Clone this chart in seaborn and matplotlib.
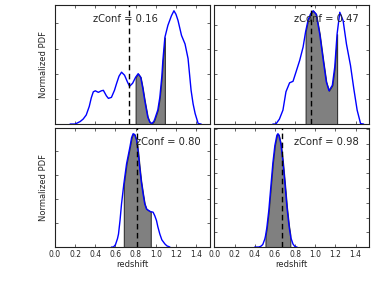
import numpy as np
import pandas as pd
import matplotlib
matplotlib.use("Agg")
import matplotlib.pyplot as plt
from matplotlib.ticker import MaxNLocator, MultipleLocator
import seaborn as sns

# ---- data ----
z_a = [0.15, 0.20, 0.25, 0.28, 0.31, 0.34, 0.36, 0.38, 0.40, 0.43, 0.46, 0.48, 0.51, 0.53,
       0.56, 0.59, 0.61, 0.635, 0.66, 0.69, 0.72, 0.74, 0.77, 0.80, 0.825, 0.85, 0.87, 0.89,
       0.92, 0.94, 0.96, 0.98, 0.99, 1.02, 1.04, 1.06, 1.07, 1.09, 1.12, 1.155, 1.18, 1.20,
       1.22, 1.255, 1.29, 1.32, 1.35, 1.37, 1.39, 1.42, 1.45]
pdf_a = [0.0, 0.0, 0.05, 0.10, 0.18, 0.35, 0.52, 0.64, 0.66, 0.63, 0.66, 0.67, 0.56, 0.51,
         0.53, 0.67, 0.80, 0.95, 1.03, 0.97, 0.83, 0.75, 0.81, 0.93, 1.00, 0.93, 0.72, 0.47,
         0.14, 0.04, 0.01, 0.05, 0.10, 0.28, 0.53, 0.95, 1.26, 1.72, 1.96, 2.15, 2.25, 2.18,
         2.06, 1.76, 1.59, 1.30, 0.67, 0.40, 0.21, 0.01, 0.0]

z_b = [0.58, 0.61, 0.645, 0.68, 0.71, 0.746, 0.78, 0.81, 0.846, 0.88, 0.905, 0.93, 0.955,
       0.98, 1.01, 1.045, 1.08, 1.11, 1.137, 1.17, 1.194, 1.217, 1.244, 1.277, 1.31, 1.35,
       1.383, 1.416, 1.45, 1.48]
pdf_b = [0.0, 0.0, 0.10, 0.28, 0.65, 0.83, 0.86, 1.05, 1.28, 1.55, 1.86, 2.10, 2.22,
         2.28, 2.21, 1.81, 1.28, 0.85, 0.67, 0.78, 1.15, 1.81, 2.25, 2.08, 1.61, 1.18,
         0.71, 0.28, 0.01, 0.0]

z_c = [0.56, 0.58, 0.60, 0.62, 0.63, 0.645, 0.66, 0.683, 0.71, 0.743, 0.76, 0.775, 0.79,
       0.81, 0.825, 0.84, 0.855, 0.874, 0.89, 0.908, 0.94, 0.95, 0.973, 0.99, 1.007, 1.02,
       1.04, 1.06, 1.09, 1.11, 1.14]
pdf_c = [0.0, 0.0, 0.10, 0.35, 0.54, 1.10, 1.79, 2.62, 3.46, 4.15, 4.55, 4.71, 4.68,
         4.43, 3.95, 3.32, 2.75, 2.21, 1.80, 1.58, 1.49, 1.47, 1.45, 1.30, 1.10, 0.85,
         0.54, 0.30, 0.13, 0.05, 0.0]

z_d = [0.40, 0.44, 0.46, 0.48, 0.50, 0.507, 0.52, 0.54, 0.56, 0.58, 0.60, 0.62, 0.63, 0.64,
       0.66, 0.68, 0.70, 0.72, 0.74, 0.753, 0.76, 0.78, 0.80, 0.82]
pdf_d = [0.0, 0.0, 0.05, 0.17, 0.54, 0.75, 1.30, 2.50, 4.10, 5.70, 6.90, 7.60, 7.70, 7.60,
         7.00, 5.80, 4.30, 2.70, 1.45, 0.85, 0.60, 0.20, 0.03, 0.0]

zconf = [0.16, 0.47, 0.80, 0.98]
z_best = [0.73, 0.955, 0.81, 0.67]
shade_lo = [0.80, 0.905, 0.683, 0.507]
shade_hi = [1.09, 1.217, 0.95, 0.753]
xticks = [0.0, 0.2, 0.4, 0.6, 0.8, 1.0, 1.2, 1.4]

panels = [(z_a, pdf_a), (z_b, pdf_b), (z_c, pdf_c), (z_d, pdf_d)]
text_x = [0.665, 0.935, 0.94, 0.935]

sns.set_style("white", {
    "xtick.direction": "in", "ytick.direction": "in",
    "xtick.top": True, "ytick.right": True,
    "xtick.bottom": True, "ytick.left": True,
    "axes.edgecolor": "black",
})
plt.rcParams["font.family"] = ["DejaVu Sans"]
plt.rcParams["xtick.major.size"] = 2.5
plt.rcParams["ytick.major.size"] = 2.5
plt.rcParams["xtick.major.width"] = 0.5
plt.rcParams["ytick.major.width"] = 0.5

fig, axes = plt.subplots(2, 2, figsize=(3.74, 2.83), dpi=100, sharex=True)
fig.subplots_adjust(left=0.147, right=0.987, top=0.982, bottom=0.127,
                    wspace=0.03, hspace=0.034)

for i, ax in enumerate(axes.flat):
    z, p = panels[i]
    df = pd.DataFrame({"redshift": z, "pdf": p})
    zz = np.array(z)
    pp = np.array(p)
    mask = (zz >= shade_lo[i] - 1e-9) & (zz <= shade_hi[i] + 1e-9)
    ax.fill_between(zz[mask], 0, pp[mask], facecolor="gray", edgecolor="#333333",
                    linewidth=0.8, zorder=1)
    sns.lineplot(data=df, x="redshift", y="pdf", ax=ax, color="blue", lw=1.0,
                 zorder=3, estimator=None, sort=False)
    ax.axvline(z_best[i], color="black", ls="--", lw=1.0, dashes=(4, 2.5), zorder=4)
    ax.set_xlim(0, 1.535)
    ax.set_ylim(0, 1.05 * max(p))
    ax.yaxis.set_major_locator(MaxNLocator(nbins=9, steps=[1, 2, 5, 10]))
    ax.set_xticks(xticks)
    ax.set_yticklabels([])
    ax.tick_params(labelsize=5.5, pad=2, length=2.5, width=0.5)
    for s in ax.spines.values():
        s.set_linewidth(0.8)
        s.set_color("#222222")
    ax.text(text_x[i], 0.885, f"zConf = {zconf[i]:.2f}", transform=ax.transAxes,
            ha="right", va="center", fontsize=7.2, zorder=5)
    if i % 2 == 0:
        ax.set_ylabel("Normalized PDF", fontsize=6, labelpad=3)
    else:
        ax.set_ylabel("")
    if i >= 2:
        ax.set_xlabel("redshift", fontsize=6, labelpad=1)
        ax.set_xticklabels([f"{t:.1f}" for t in xticks])
    else:
        ax.set_xlabel("")

fig.savefig("out.png", dpi=100)
